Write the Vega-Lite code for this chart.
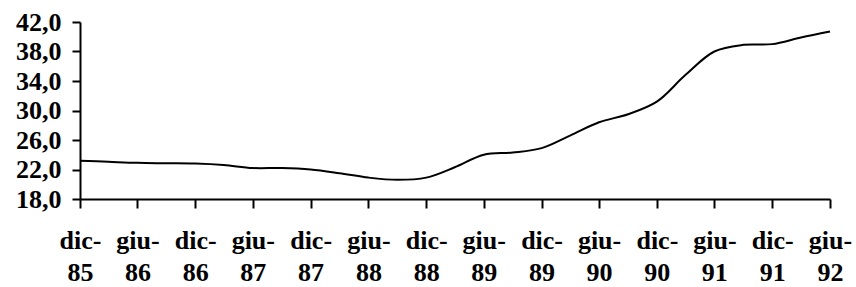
{
  "$schema": "https://vega.github.io/schema/vega-lite/v6.json",
  "width": 750,
  "height": 177,
  "autosize": {"type": "none"},
  "padding": {"left": 80, "top": 22, "right": 26, "bottom": 88},
  "background": "white",
  "config": {
    "view": {"stroke": null},
    "font": "Liberation Serif",
    "axis": {
      "grid": false,
      "domainColor": "black",
      "domainWidth": 2,
      "tickColor": "black",
      "tickWidth": 2,
      "labelColor": "black",
      "labelFont": "Liberation Serif",
      "labelFontWeight": "bold",
      "labelFontSize": 26,
      "title": null
    }
  },
  "data": {
    "values": [
      {"mese": "1985-12-01", "valore": 23.2},
      {"mese": "1986-03-01", "valore": 23.05},
      {"mese": "1986-06-01", "valore": 22.9},
      {"mese": "1986-09-01", "valore": 22.85},
      {"mese": "1986-12-01", "valore": 22.8},
      {"mese": "1987-03-01", "valore": 22.6},
      {"mese": "1987-06-01", "valore": 22.2},
      {"mese": "1987-09-01", "valore": 22.2},
      {"mese": "1987-12-01", "valore": 22.0},
      {"mese": "1988-03-01", "valore": 21.5},
      {"mese": "1988-06-01", "valore": 20.9},
      {"mese": "1988-09-01", "valore": 20.6},
      {"mese": "1988-12-01", "valore": 20.9},
      {"mese": "1989-03-01", "valore": 22.3},
      {"mese": "1989-06-01", "valore": 24.0},
      {"mese": "1989-09-01", "valore": 24.3},
      {"mese": "1989-12-01", "valore": 24.9},
      {"mese": "1990-03-01", "valore": 26.6},
      {"mese": "1990-06-01", "valore": 28.4},
      {"mese": "1990-09-01", "valore": 29.5},
      {"mese": "1990-12-01", "valore": 31.2},
      {"mese": "1991-03-01", "valore": 34.8},
      {"mese": "1991-06-01", "valore": 38.0},
      {"mese": "1991-09-01", "valore": 38.9},
      {"mese": "1991-12-01", "valore": 39.0},
      {"mese": "1992-03-01", "valore": 39.9},
      {"mese": "1992-06-01", "valore": 40.7}
    ]
  },
  "mark": {"type": "line", "color": "black", "strokeWidth": 2, "interpolate": "catmull-rom"},
  "encoding": {
    "x": {
      "field": "mese",
      "type": "temporal",
      "scale": {"type": "utc", "domain": [{"year": 1985, "month": 12, "date": 1, "utc": true}, {"year": 1992, "month": 6, "date": 1, "utc": true}], "nice": false},
      "axis": {
        "values": [
          {"year": 1985, "month": 12, "date": 1, "utc": true},
          {"year": 1986, "month": 6, "date": 1, "utc": true},
          {"year": 1986, "month": 12, "date": 1, "utc": true},
          {"year": 1987, "month": 6, "date": 1, "utc": true},
          {"year": 1987, "month": 12, "date": 1, "utc": true},
          {"year": 1988, "month": 6, "date": 1, "utc": true},
          {"year": 1988, "month": 12, "date": 1, "utc": true},
          {"year": 1989, "month": 6, "date": 1, "utc": true},
          {"year": 1989, "month": 12, "date": 1, "utc": true},
          {"year": 1990, "month": 6, "date": 1, "utc": true},
          {"year": 1990, "month": 12, "date": 1, "utc": true},
          {"year": 1991, "month": 6, "date": 1, "utc": true},
          {"year": 1991, "month": 12, "date": 1, "utc": true},
          {"year": 1992, "month": 6, "date": 1, "utc": true}
        ],
        "labelExpr": "[utcFormat(datum.value, '%m') == '12' ? 'dic-' : 'giu-', utcFormat(datum.value, '%y')]",
        "labelLineHeight": 32,
        "labelPadding": 19,
        "tickSize": 9,
        "labelAngle": 0,
        "labelAlign": "center",
        "labelBaseline": "top",
        "labelOverlap": false,
        "labelFlush": false
      }
    },
    "y": {
      "field": "valore",
      "type": "quantitative",
      "scale": {"domain": [18, 42], "nice": false, "zero": false},
      "axis": {
        "values": [18, 22, 26, 30, 34, 38, 42],
        "labelExpr": "replace(format(datum.value, '.1f'), '.', ',')",
        "tickSize": 8,
        "labelPadding": 11
      }
    }
  }
}
